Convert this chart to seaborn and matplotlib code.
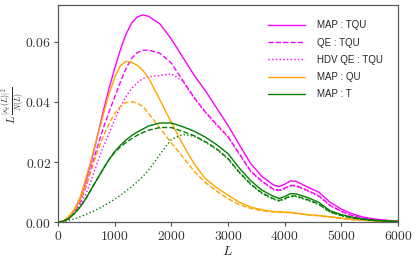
import numpy as np
import pandas as pd
import matplotlib
matplotlib.use("Agg")
import matplotlib.pyplot as plt
from matplotlib.ticker import FuncFormatter
import seaborn as sns

L = [0, 100, 200, 300, 400, 500, 600, 700, 800, 900, 1000, 1100, 1200, 1300, 1400, 1500, 1600,
     1800, 2000, 2200, 2400, 2600, 2800, 3000, 3200, 3400, 3600, 3800,
     3900, 4000, 4100, 4200, 4400, 4600, 4800, 5000, 5200, 5400, 5600, 5800, 6000]

map_tqu = [0, 0.0003, 0.0015, 0.0042, 0.0082, 0.0140, 0.0210, 0.0288, 0.0368, 0.0443, 0.0510,
           0.0572, 0.0625, 0.0662, 0.0683, 0.0690, 0.0685,
           0.0660, 0.0610, 0.0550, 0.0490, 0.0438, 0.0380, 0.0322, 0.0258, 0.0195, 0.0152, 0.0124,
           0.0118, 0.0126, 0.0137, 0.0136, 0.0117, 0.0100, 0.0066, 0.0043, 0.0027, 0.0016, 0.0010,
           0.0006, 0.0003]
qe_tqu = [0, 0.0002, 0.0012, 0.0035, 0.0068, 0.0120, 0.0188, 0.0252, 0.0312, 0.0365, 0.0415,
          0.0465, 0.0510, 0.0545, 0.0564, 0.0572, 0.0573,
          0.0562, 0.0530, 0.0472, 0.0416, 0.0367, 0.0325, 0.0285, 0.0228, 0.0170, 0.0136, 0.0110,
          0.0106, 0.0113, 0.0122, 0.0122, 0.0106, 0.0088, 0.0056, 0.0036, 0.0021, 0.0013, 0.0008,
          0.0005, 0.0003]
hdv_tqu = [0, 0.0002, 0.0011, 0.0032, 0.0060, 0.0095, 0.0145, 0.0200, 0.0250, 0.0295, 0.0340,
           0.0382, 0.0418, 0.0445, 0.0464, 0.0478, 0.0484,
           0.0488, 0.0494, 0.0470, 0.0414, 0.0365, 0.0323, 0.0283, 0.0226, 0.0168, 0.0134, 0.0108,
           0.0104, 0.0111, 0.0120, 0.0120, 0.0104, 0.0086, 0.0055, 0.0035, 0.0021, 0.0013, 0.0008,
           0.0005, 0.0003]
map_qu = [0, 0.0004, 0.0020, 0.0045, 0.0085, 0.0148, 0.0215, 0.0287, 0.0358, 0.0425, 0.0480,
          0.0520, 0.0535, 0.0532, 0.0522, 0.0505, 0.0480,
          0.0407, 0.0332, 0.0260, 0.0195, 0.0145, 0.0115, 0.0090, 0.0066, 0.0050, 0.0041, 0.0035,
          0.0034, 0.0033, 0.0032, 0.0030, 0.0025, 0.0022, 0.0018, 0.0013, 0.0009, 0.0006, 0.0004,
          0.0003, 0.0002]
qe_qu = [0, 0.0003, 0.0017, 0.0040, 0.0075, 0.0122, 0.0180, 0.0235, 0.0285, 0.0327, 0.0360,
         0.0385, 0.0398, 0.0401, 0.0396, 0.0385, 0.0362,
         0.0313, 0.0264, 0.0218, 0.0170, 0.0132, 0.0103, 0.0078, 0.0058, 0.0046, 0.0038, 0.0034,
         0.0033, 0.0032, 0.0031, 0.0029, 0.0024, 0.0021, 0.0017, 0.0012, 0.0008, 0.0006, 0.0004,
         0.0003, 0.0002]
map_t = [0, 0.0003, 0.0013, 0.0030, 0.0052, 0.0080, 0.0113, 0.0145, 0.0177, 0.0208, 0.0234,
         0.0255, 0.0273, 0.0288, 0.0300, 0.0310, 0.0320,
         0.0330, 0.0330, 0.0318, 0.0303, 0.0283, 0.0258, 0.0228, 0.0180, 0.0138, 0.0106, 0.0086,
         0.0079, 0.0085, 0.0095, 0.0094, 0.0082, 0.0066, 0.0038, 0.0025, 0.0016, 0.0010, 0.0006,
         0.0004, 0.0002]
qe_t = [0, 0.0003, 0.0013, 0.0030, 0.0052, 0.0080, 0.0113, 0.0145, 0.0177, 0.0207, 0.0232,
        0.0250, 0.0265, 0.0278, 0.0289, 0.0298, 0.0306,
        0.0315, 0.0315, 0.0302, 0.0288, 0.0268, 0.0244, 0.0212, 0.0166, 0.0127, 0.0097, 0.0078,
        0.0072, 0.0078, 0.0087, 0.0087, 0.0075, 0.0060, 0.0034, 0.0022, 0.0014, 0.0009, 0.0005,
        0.0003, 0.0002]
hdv_t = [0, 0.0002, 0.0006, 0.0011, 0.0018, 0.0026, 0.0034, 0.0043, 0.0053, 0.0064, 0.0076,
         0.0089, 0.0103, 0.0118, 0.0134, 0.0152, 0.0173,
         0.0225, 0.0275, 0.0292, 0.0286, 0.0266, 0.0242, 0.0210, 0.0164, 0.0125, 0.0095, 0.0076,
         0.0070, 0.0076, 0.0085, 0.0085, 0.0073, 0.0058, 0.0033, 0.0021, 0.0013, 0.0008, 0.0005,
         0.0003, 0.0002]

series = [
    (map_tqu, "magenta", "-", "MAP : TQU"),
    (qe_tqu, "magenta", "--", "QE : TQU"),
    (hdv_tqu, "magenta", ":", "HDV QE : TQU"),
    (map_qu, "orange", "-", "MAP : QU"),
    (qe_qu, "orange", "--", None),
    (map_t, "green", "-", "MAP : T"),
    (qe_t, "green", "--", None),
    (hdv_t, "green", ":", None),
]

sns.set_style("ticks")
plt.rcParams["mathtext.fontset"] = "cm"
plt.rcParams["font.family"] = ["DejaVu Sans"]

fig = plt.figure(figsize=(4.16, 2.61), dpi=100)
ax = fig.add_axes([0.139, 0.149, 0.818, 0.832])

for vals, col, ls, lab in series:
    df = pd.DataFrame({"L": L, "v": vals})
    kw = dict(label=lab) if lab else {}
    sns.lineplot(data=df, x="L", y="v", ax=ax, color=col, linestyle=ls, linewidth=1.0, **kw)

ax.set_xlim(0, 6000)
ax.set_ylim(0, 0.0723)
ax.set_xticks([0, 1000, 2000, 3000, 4000, 5000, 6000])
ax.set_yticks([0.0, 0.02, 0.04, 0.06])
ax.xaxis.set_major_formatter(FuncFormatter(lambda x, p: f"${int(x)}$"))
ax.yaxis.set_major_formatter(FuncFormatter(lambda y, p: f"${y:.2f}$"))
ax.tick_params(axis="both", labelsize=9.8, length=3, width=0.8, colors="0.3", labelcolor="0.2", pad=2)
for s in ax.spines.values():
    s.set_visible(True)
    s.set_color("0.35")
    s.set_linewidth(0.9)

ax.set_xlabel("$L$", fontsize=10, labelpad=1)
ax.set_ylabel(r"$L\,\frac{|\kappa_t(L)|^2}{N(L)}$", fontsize=8)
ax.yaxis.set_label_coords(-0.094, 0.54)

leg = ax.legend(loc="upper right", frameon=False,
                prop={"family": "Liberation Sans", "size": 7},
                handlelength=3.8, handletextpad=1.2, labelspacing=0.75,
                bbox_to_anchor=(0.98, 0.97))

fig.savefig("out.png", dpi=100)
